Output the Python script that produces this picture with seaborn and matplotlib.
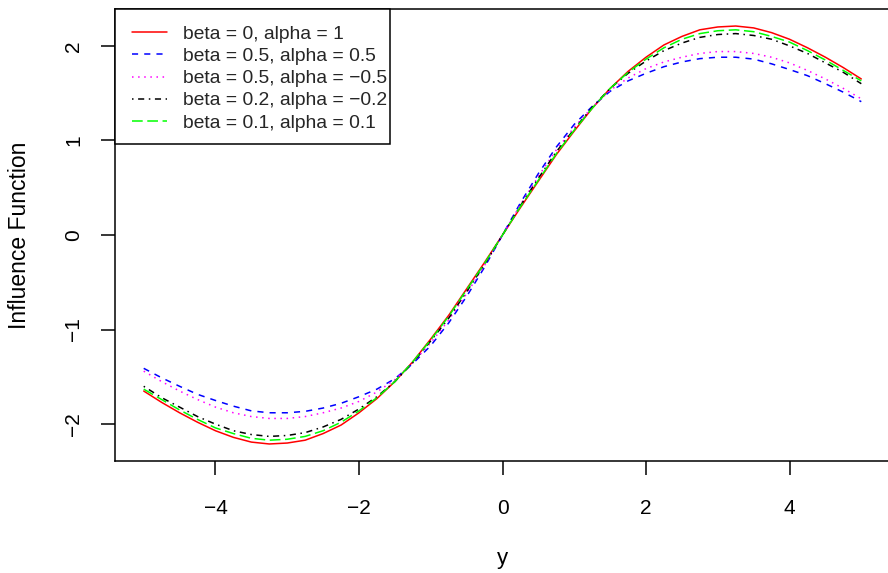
import numpy as np
import pandas as pd
import seaborn as sns
from matplotlib import pyplot as plt
from matplotlib.patches import Rectangle

# grid of y values the curves were read at
y_grid = np.linspace(-5, 5, 41)

# influence function values
if_red = [-1.65, -1.77, -1.88, -1.98, -2.07, -2.14, -2.19, -2.21, -2.20, -2.17, -2.10, -2.01, -1.88, -1.73, -1.55, -1.34, -1.10, -0.85, -0.57, -0.29, 0,
          0.29, 0.57, 0.85, 1.10, 1.34, 1.55, 1.73, 1.88, 2.01, 2.10, 2.17, 2.20, 2.21, 2.19, 2.14, 2.07, 1.98, 1.88, 1.77, 1.65]
if_blue = [-1.41, -1.51, -1.60, -1.685, -1.75, -1.81, -1.86, -1.88, -1.88, -1.865, -1.83, -1.78, -1.71, -1.63, -1.52, -1.36, -1.17, -0.93, -0.65, -0.34, 0,
           0.34, 0.65, 0.93, 1.17, 1.36, 1.52, 1.63, 1.71, 1.78, 1.83, 1.865, 1.88, 1.88, 1.86, 1.81, 1.75, 1.685, 1.60, 1.51, 1.41]
if_magenta = [-1.44, -1.55, -1.65, -1.74, -1.82, -1.88, -1.92, -1.94, -1.94, -1.92, -1.88, -1.83, -1.76, -1.66, -1.53, -1.35, -1.14, -0.90, -0.62, -0.32, 0,
              0.32, 0.62, 0.90, 1.14, 1.35, 1.53, 1.66, 1.76, 1.83, 1.88, 1.92, 1.94, 1.94, 1.92, 1.88, 1.82, 1.74, 1.65, 1.55, 1.44]
if_black = [-1.60, -1.72, -1.82, -1.92, -2.00, -2.07, -2.11, -2.13, -2.12, -2.09, -2.03, -1.95, -1.84, -1.71, -1.55, -1.35, -1.12, -0.88, -0.60, -0.31, 0,
            0.31, 0.60, 0.88, 1.12, 1.35, 1.55, 1.71, 1.84, 1.95, 2.03, 2.09, 2.12, 2.13, 2.11, 2.07, 2.00, 1.92, 1.82, 1.72, 1.60]
if_green = [-1.63, -1.74, -1.85, -1.95, -2.04, -2.10, -2.15, -2.17, -2.16, -2.13, -2.07, -1.98, -1.86, -1.72, -1.55, -1.34, -1.11, -0.86, -0.58, -0.30, 0,
            0.30, 0.58, 0.86, 1.11, 1.34, 1.55, 1.72, 1.86, 1.98, 2.07, 2.13, 2.16, 2.17, 2.15, 2.10, 2.04, 1.95, 1.85, 1.74, 1.63]

labels = ['beta = 0, alpha = 1',
          'beta = 0.5, alpha = 0.5',
          'beta = 0.5, alpha = \u22120.5',
          'beta = 0.2, alpha = \u22120.2',
          'beta = 0.1, alpha = 0.1']

sns.set_theme(style='white')
plt.rcParams['font.family'] = ['Liberation Sans', 'DejaVu Sans']

fig = plt.figure(figsize=(8.88, 5.73), dpi=100)
ax = fig.add_axes([115 / 888, 112 / 573, 775 / 888, 452 / 573])

lw = 1.1
series = [(if_red, '#FF0000', '-'),
          (if_blue, '#0000FF', (0, (4, 4))),
          (if_magenta, '#FF00FF', (0, (1, 3))),
          (if_black, '#000000', (0, (1, 3, 4, 3))),
          (if_green, '#00FF00', (0, (7, 3)))]

for (vals, col, ls), lab in zip(series, labels):
    df = pd.DataFrame({'y': y_grid, 'IF': vals})
    sns.lineplot(data=df, x='y', y='IF', color=col, linestyle=ls, linewidth=lw,
                 label=lab, ax=ax)

ax.set_xlim(-5.4, 5.4)
ax.set_ylim(-2.39, 2.39)
ax.set_xticks([-4, -2, 0, 2, 4])
ax.set_yticks([-2, -1, 0, 1, 2])

for s in ax.spines.values():
    s.set_color('black')
    s.set_linewidth(1.1)

ax.tick_params(axis='both', direction='out', length=10, width=1.1, colors='black',
               labelsize=15, left=True, bottom=True)
ax.tick_params(axis='x', pad=17)
ax.tick_params(axis='y', pad=13, labelrotation=90)
for t in ax.get_yticklabels():
    t.set_verticalalignment('center')

ax.set_xlabel('y', fontsize=16, color='black')
ax.set_ylabel('Influence Function', fontsize=16.5, color='black')
ax.xaxis.set_label_coords(0.5, -0.193)
ax.yaxis.set_label_coords(-0.108, 0.5)

# R style legend box: tight on the right side
ax.add_patch(Rectangle((0, 0.7013), 0.3548, 0.2987, transform=ax.transAxes,
                       facecolor='white', edgecolor='black', linewidth=1.1,
                       zorder=4, clip_on=False))
leg = ax.legend(loc='upper left', bbox_to_anchor=(0.0219, 0.9636), borderaxespad=0,
                borderpad=0, fontsize=13.9, frameon=False,
                handlelength=1.81, handletextpad=0.83, labelspacing=0.24)
leg.set_zorder(5)

fig.savefig('out.png', dpi=100)
